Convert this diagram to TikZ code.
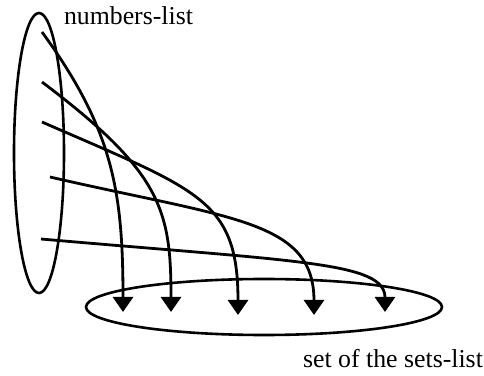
\documentclass[tikz,border=0pt]{standalone}
\usepackage{fontspec}
\setmainfont{Liberation Serif}
\usepackage{tikz}
\usetikzlibrary{shapes.geometric, arrows.meta, positioning}
\tikzset{
  listset/.style={ellipse, draw=black, line width=1.3pt, inner sep=0pt},
  listname/.style={anchor=base, inner sep=0pt, font=\fontsize{12.9}{15}\selectfont},
  arrow/.style={-{Triangle[length=7.5pt, width=10pt]}, line width=1.4pt, draw=black},
}

\begin{document}
\begin{tikzpicture}[x=0.5pt, y=0.5pt]
  \useasboundingbox (0,0) rectangle (484,376);
  \node[listset, minimum width=25pt, minimum height=140pt] (numbers) at (39,223) {};
  \node[listset, minimum width=178pt, minimum height=28pt] (sets) at (264,69) {};
  \node[listname] (numlabel) at (128.5,351) {numbers-list};
  \node[listname] (setlabel) at (393,8) {set of the sets-list};

  % start points inside numbers-list
  \coordinate (n1) at (42,344);
  \coordinate (n2) at (42,294);
  \coordinate (n3) at (42,254);
  \coordinate (n4) at (50,199);
  \coordinate (n5) at (41,137);
  % targets inside set of the sets-list
  \coordinate (s1) at (123,64);
  \coordinate (s2) at (171,64);
  \coordinate (s3) at (238,61);
  \coordinate (s4) at (314,61);
  \coordinate (s5) at (385,64);

  \draw[arrow] (n1) .. controls +(-54:120) and +(0,122) .. (s1);
  \draw[arrow] (n2) .. controls +(-37:150) and +(0,102) .. (s2);
  \draw[arrow] (n3) .. controls +(-23.6:170) and +(0,116) .. (s3);
  \draw[arrow] (n4) .. controls +(-13:185) and +(0,95) .. (s4);
  \draw[arrow] (n5) .. controls +(-5:260) and +(0,50) .. (s5);
\end{tikzpicture}
\end{document}
